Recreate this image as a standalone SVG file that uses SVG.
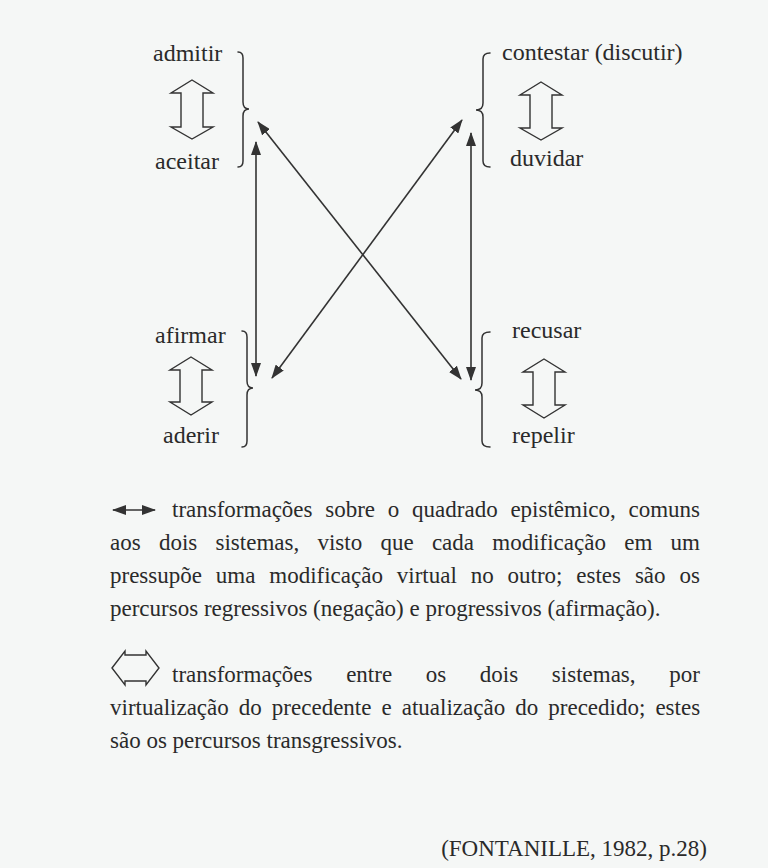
<svg xmlns="http://www.w3.org/2000/svg" width="768" height="868" viewBox="0 0 768 868">
<defs>
<style>
.bg{fill:#f5f7f6}
.lbl{font-family:"Liberation Serif","Times New Roman",serif;font-size:24px;fill:#2a2a2a}
.leg{font-family:"Liberation Serif","Times New Roman",serif;font-size:23px;fill:#2a2a2a}
.hollow{fill:none;stroke:#333;stroke-width:1.4;stroke-linejoin:miter}
.brace{fill:none;stroke:#333;stroke-width:1.5;stroke-linecap:round}
.conn{fill:none;stroke:#333;stroke-width:1.6;marker-start:url(#ah);marker-end:url(#ah)}
</style>
<marker id="ah" viewBox="0 0 14 10" refX="13" refY="5" markerWidth="14" markerHeight="10" markerUnits="userSpaceOnUse" orient="auto-start-reverse">
<path d="M0,0 L14,5 L0,10 Z" fill="#333"/>
</marker>
</defs>
<rect class="bg" x="0" y="0" width="768" height="868"/>

<g id="node-admitir-aceitar">
<text class="lbl" x="153" y="61">admitir</text>
<text class="lbl" x="155" y="169">aceitar</text>
<path class="hollow" d="M192,80 L213,93 L203,93 L203,127 L213,127 L192,139 L171,127 L181,127 L181,93 L171,93 Z"/>
<path class="brace" d="M238,52 Q243,52 243,58 L243,102 Q243,109 249,109 Q243,109 243,116 L243,161 Q243,167 238,167"/>
</g>

<g id="node-contestar-duvidar">
<text class="lbl" x="502" y="60">contestar (discutir)</text>
<text class="lbl" x="510" y="166">duvidar</text>
<path class="hollow" d="M541,82 L562,95 L552,95 L552,128 L562,128 L541,140 L520,128 L530,128 L530,95 L520,95 Z"/>
<path class="brace" d="M490,53 Q483,53 483,59 L483,103 Q483,110 476,110 Q483,110 483,117 L483,161 Q483,167 490,167"/>
</g>

<g id="node-afirmar-aderir">
<text class="lbl" x="155" y="343">afirmar</text>
<text class="lbl" x="163" y="443">aderir</text>
<path class="hollow" d="M191,357 L212,370 L202,370 L202,402 L212,402 L191,415 L170,402 L180,402 L180,370 L170,370 Z"/>
<path class="brace" d="M242,331 Q247,331 247,337 L247,381 Q247,388 253,388 Q247,388 247,395 L247,441 Q247,447 242,447"/>
</g>

<g id="node-recusar-repelir">
<text class="lbl" x="512" y="338">recusar</text>
<text class="lbl" x="512" y="443">repelir</text>
<path class="hollow" d="M544,359 L565,372 L555,372 L555,405 L565,405 L544,418 L523,405 L533,405 L533,372 L523,372 Z"/>
<path class="brace" d="M490,332 Q482,332 482,338 L482,383 Q482,390 475,390 Q482,390 482,397 L482,441 Q482,447 490,447"/>
</g>

<g id="connectors">
<line class="conn" x1="256" y1="142" x2="256" y2="376"/>
<line class="conn" x1="471" y1="133" x2="471" y2="380"/>
<line class="conn" x1="258" y1="122" x2="461" y2="379"/>
<line class="conn" x1="462" y1="120" x2="272" y2="378"/>
</g>

<g id="legend">
<line class="conn" x1="113" y1="510" x2="155" y2="510"/>
<text class="leg" x="172" y="517" word-spacing="7">transformações sobre o quadrado epistêmico, comuns</text>
<text class="leg" x="110" y="550" word-spacing="12.5">aos dois sistemas, visto que cada modificação em um</text>
<text class="leg" x="110" y="583" word-spacing="8.1">pressupõe uma modificação virtual no outro; estes são os</text>
<text class="leg" x="110" y="616">percursos regressivos (negação) e progressivos (afirmação).</text>
<path class="hollow" d="M112,668 L125,651 L125,655 L146,655 L146,651 L159,668 L146,685 L146,681 L125,681 L125,685 Z"/>
<text class="leg" x="172" y="682" word-spacing="27.9">transformações entre os dois sistemas, por</text>
<text class="leg" x="110" y="715" word-spacing="4.3">virtualização do precedente e atualização do precedido; estes</text>
<text class="leg" x="110" y="748">são os percursos transgressivos.</text>
<text class="leg" x="707" y="856" text-anchor="end">(FONTANILLE, 1982, p.28)</text>
</g>
</svg>
